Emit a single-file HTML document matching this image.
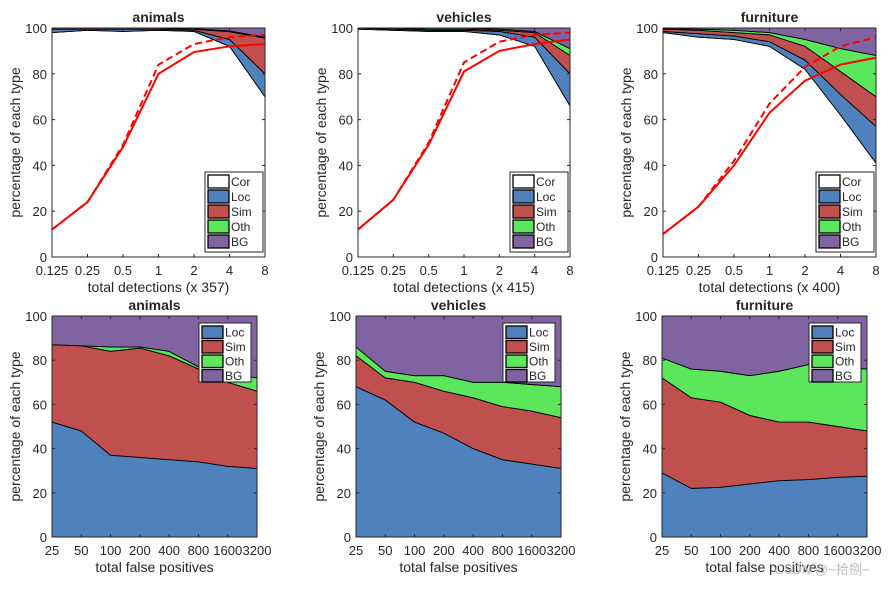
<!DOCTYPE html>
<html><head><meta charset="utf-8"><style>
body{margin:0;background:#fff;width:888px;height:587px;overflow:hidden}
svg text{font-family:"Liberation Sans",Arial,sans-serif;fill:#262626}
</style></head><body>
<svg id="fig" width="888" height="587" viewBox="0 0 888 587"></svg>
<script>
const topTicks=["0.125","0.25","0.5","1","2","4","8"];
const botTicks=["25","50","100","200","400","800","1600","3200"];
const yTicks=[0,20,40,60,80,100];
const titles=["animals","vehicles","furniture"];
const counts=["357","415","400"];
// top stacked cumulative tops: Cor, Loc, Sim, Oth (BG to 100)
const animCor=[98,99,98.5,99,98.5,92,70];
const animLoc=[99.5,99.5,99.5,99.5,99,95,80];
const animSim=[100,100,100,100,99.5,98.4,95.6];
const animOth=[100,100,100,100,99.7,98.7,96];
const animRec=[12,24,48,80,89.5,92,93];
const animRecW=[12,24,49,84,93,96,97];
const vehCor=[99.5,99,98.5,98.5,97,92,66];
const vehLoc=[100,99.5,99,99,98.5,96,80];
const vehSim=[100,100,99.5,99.5,99,98,88];
const vehOth=[100,100,100,100,99.5,98.5,91];
const vehRec=[12,25,49,81,90,93,95];
const vehRecW=[12,25,50,85,94,97,98];
const furCor=[98,96,95,92,82,62,41];
const furLoc=[98.5,97.5,96.5,94,86,71,57];
const furSim=[99.5,99,98,97,92,81,70];
const furOth=[99.7,99.5,99,98,95,91,88];
const furRec=[10,22,40,63,77,84,87];
const furRecW=[10,22,42,67,83,92,96];
// bottom stacked cumulative tops: Loc, Sim, Oth
const bAnimLoc=[52,48,37,36,35,34,32,31];
const bAnimSim=[87,86.5,84,85.5,82,76,70,66];
const bAnimOth=[87,86.5,86,86,84,77,74,72];
const bVehLoc=[68,62,52,47,40,35,33,31];
const bVehSim=[82,72,70,66,63,59,57,54];
const bVehOth=[86,75,73,73,70,70,69,68];
const bFurLoc=[29,22,22.5,24,25.5,26,27,27.5];
const bFurSim=[72,63,61,55,52,52,50,48];
const bFurOth=[81,76,75,73,75,78,77,76];

const C={Cor:"#ffffff",Loc:"#4f81bd",Sim:"#c0504d",Oth:"#5ce65c",BG:"#8064a2"};
const svg=document.getElementById("fig");
const NS="http://www.w3.org/2000/svg";
function mk(t,a,p){const e=document.createElementNS(NS,t);for(const k in a)e.setAttribute(k,a[k]);(p||svg).appendChild(e);return e;}
function txt(s,x,y,sz,anchor,p,extra){const e=mk("text",Object.assign({x:x,y:y,"font-size":sz,"text-anchor":anchor||"middle"},extra||{}),p);e.textContent=s;return e;}

function panel(px0,px1,py0,py1,ticks,layers,names,rec,recW,title,xlabel,idx,row){
  const g=mk("g",{});
  
  
  const n=ticks.length;
  const X=i=>px0+(px1-px0)*i/(n-1);
  const Y=v=>py1-(py1-py0)*v/100;
  const bounds=[...layers,ticks.map(()=>100)];
  const order=[...names];
  let prev=ticks.map(()=>0);
  for(let L=0;L<bounds.length;L++){
    const top=bounds[L];
    let d="M"+X(0)+","+Y(top[0]);
    for(let i=1;i<n;i++)d+="L"+X(i)+","+Y(top[i]);
    for(let i=n-1;i>=0;i--)d+="L"+X(i)+","+Y(prev[i]);
    const a=mk("path",{d:d+"Z",fill:C[order[L]],stroke:"#000","stroke-width":0.9,"stroke-linejoin":"round"},g);
    
    
    prev=top;
  }
  if(rec){
    const pl=(arr,dash,nm)=>{const l=mk("polyline",{points:arr.map((v,i)=>X(i)+","+Y(v)).join(" "),fill:"none",stroke:"#ff0000","stroke-width":2,"stroke-dasharray":dash||"none"},g);
      
      };
    pl(recW,"7,4","recall-weak-line");pl(rec,null,"recall-line");
  }
  const ax=mk("rect",{x:px0,y:py0,width:px1-px0,height:py1-py0,fill:"none",stroke:"#262626","stroke-width":1},g);
  
  
  for(const v of yTicks){mk("line",{x1:px0,x2:px0+3,y1:Y(v),y2:Y(v),stroke:"#262626"},g);mk("line",{x1:px1,x2:px1-3,y1:Y(v),y2:Y(v),stroke:"#262626"},g);
    const t=txt(String(v),px0-5,Y(v)+5,13,"end",g);}
  ticks.forEach((s,i)=>{mk("line",{x1:X(i),x2:X(i),y1:py1,y2:py1-3,stroke:"#262626"},g);mk("line",{x1:X(i),x2:X(i),y1:py0,y2:py0+3,stroke:"#262626"},g);
    const t=txt(s,X(i),py1+18,13,"middle",g);});
  const tt=txt(title,(px0+px1)/2,py0-6,14,"middle",g,{"font-weight":"bold"});
  
  const xl=txt(xlabel,(px0+px1)/2,py1+35,14,"middle",g);
  
  const cy=(py0+py1)/2, cx=px0-37;
  const yl=txt("percentage of each type",cx,cy+5,14,"middle",g,{transform:"rotate(-90 "+cx+" "+cy+")"});
  
  const leg=rec?["Cor","Loc","Sim","Oth","BG"]:["Loc","Sim","Oth","BG"];
  const lw=rec?58:52, lh=rec?80:59, step=rec?15:14.5;
  const lx=px1-lw-(rec?2:6), ly=rec?py1-lh-5:py0+7;
  const lg=mk("g",{},g);
  
  mk("rect",{x:lx,y:ly,width:lw,height:lh,fill:"#fff",stroke:"#262626"},lg);
  leg.forEach((k,i)=>{const yy=ly+3+i*step;
    const s=mk("rect",{x:lx+3,y:yy,width:21,height:step-2,fill:C[k],stroke:"#000","stroke-width":1.3},lg);
    
    const t=txt(k,lx+26,yy+step-4,12,"start",lg);});
}
const topX=[[52,265],[358,570],[663,876]];
const botX=[[52,257],[356,561],[662,867]];
const topData=[[animCor,animLoc,animSim,animOth,animRec,animRecW],[vehCor,vehLoc,vehSim,vehOth,vehRec,vehRecW],[furCor,furLoc,furSim,furOth,furRec,furRecW]];
const botData=[[bAnimLoc,bAnimSim,bAnimOth],[bVehLoc,bVehSim,bVehOth],[bFurLoc,bFurSim,bFurOth]];
for(let i=0;i<3;i++){
  const d=topData[i];
  panel(topX[i][0],topX[i][1],28,257,topTicks,[d[0],d[1],d[2],d[3]],["Cor","Loc","Sim","Oth","BG"],d[4],d[5],titles[i],"total detections (x "+counts[i]+")",i,"top");
  const b=botData[i];
  panel(botX[i][0],botX[i][1],316,537,botTicks,[b[0],b[1],b[2]],["Loc","Sim","Oth","BG"],null,null,titles[i],"total false positives",i,"bottom");
}
const wm=txt("CSDN @~拾捌~",822,574,13,"middle",svg,{style:"fill:#bbb;font-family:'Liberation Sans','Noto Sans CJK SC',sans-serif"});


</script>
</body></html>
